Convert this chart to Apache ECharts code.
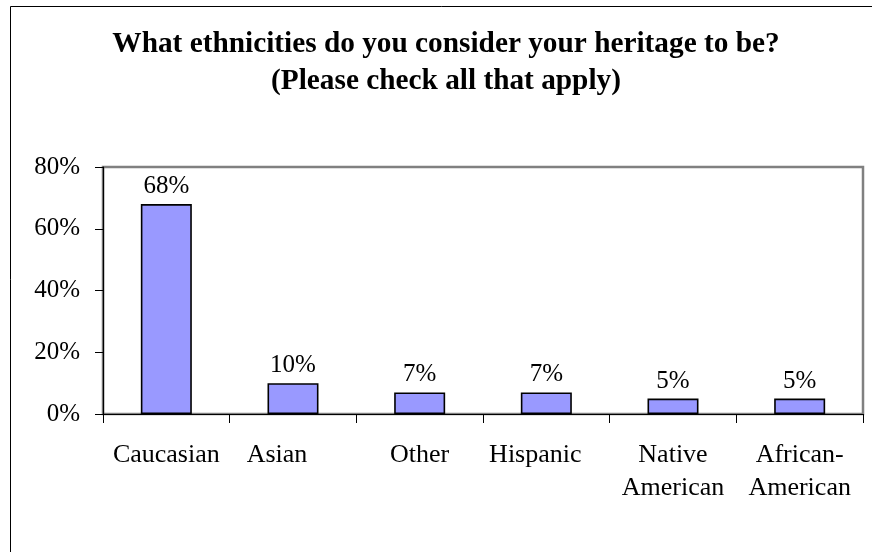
<!DOCTYPE html>
<html>
<head>
<meta charset="utf-8">
<script src="https://cdn.jsdelivr.net/npm/echarts@6/dist/echarts.min.js"></script>
<style>
html,body{margin:0;padding:0;background:#fff;}
#chart{width:872px;height:552px;}
</style>
</head>
<body>
<div id="chart"></div>
<script>
const categories = ['Caucasian', 'Asian', 'Other', 'Hispanic', 'Native\nAmerican', 'African-\nAmerican'];
const values = [68, 10, 7, 7, 5, 5];
const yTicks = [0, 20, 40, 60, 80];

const FONT = "'Liberation Serif', 'Times New Roman', serif";
const labelPad = {'Asian': [0, 32, 0, 0], 'Hispanic': [0, 22, 0, 0]};

const chart = echarts.init(document.getElementById('chart'));
chart.setOption({
  backgroundColor: '#fff',
  animation: false,
  title: {
    text: 'What ethnicities do you consider your heritage to be?\n(Please check all that apply)',
    left: 446,
    textAlign: 'center',
    top: 26,
    padding: 0,
    textStyle: {
      fontFamily: FONT,
      fontWeight: 'bold',
      fontSize: 29.3,
      lineHeight: 37,
      color: '#000'
    }
  },
  graphic: [{
    type: 'rect',
    shape: {x: 10.5, y: 6.5, width: 900, height: 600},
    style: {fill: 'none', stroke: '#000', lineWidth: 1},
    silent: true,
    z: 100
  }],
  grid: {
    left: 103, top: 167, right: 9, bottom: 138,
    show: true,
    borderColor: '#808080',
    borderWidth: 2.5,
    containLabel: false
  },
  xAxis: {
    type: 'category',
    data: categories.map(c => ({value: c, textStyle: labelPad[c] ? {padding: labelPad[c]} : {}})),
    boundaryGap: true,
    axisLine: {show: true, lineStyle: {color: '#000', width: 1.2}},
    axisTick: {show: true, length: 9, inside: false, alignWithLabel: false, lineStyle: {color: '#000', width: 1}},
    axisLabel: {
      interval: 0,
      margin: 25,
      fontFamily: FONT,
      fontSize: 26,
      lineHeight: 33,
      color: '#000',
      verticalAlign: 'top'
    },
    splitLine: {show: false}
  },
  yAxis: {
    type: 'value',
    min: yTicks[0],
    max: yTicks[yTicks.length - 1],
    interval: yTicks[1] - yTicks[0],
    axisLine: {show: true, lineStyle: {color: '#000', width: 1.2}},
    axisTick: {show: true, length: 8, inside: false, lineStyle: {color: '#000', width: 1}},
    axisLabel: {
      margin: 23,
      fontFamily: FONT,
      fontSize: 25,
      color: '#000',
      padding: [6, 0, 0, 0],
      formatter: '{value}%'
    },
    splitLine: {show: false}
  },
  series: [{
    type: 'bar',
    data: values,
    barWidth: 51,
    itemStyle: {color: '#9999FF', borderColor: '#000', borderWidth: 1.6},
    label: {
      show: true,
      position: 'top',
      distance: 5,
      fontFamily: FONT,
      fontSize: 25,
      color: '#000',
      formatter: '{c}%'
    }
  }]
});
</script>
</body>
</html>
